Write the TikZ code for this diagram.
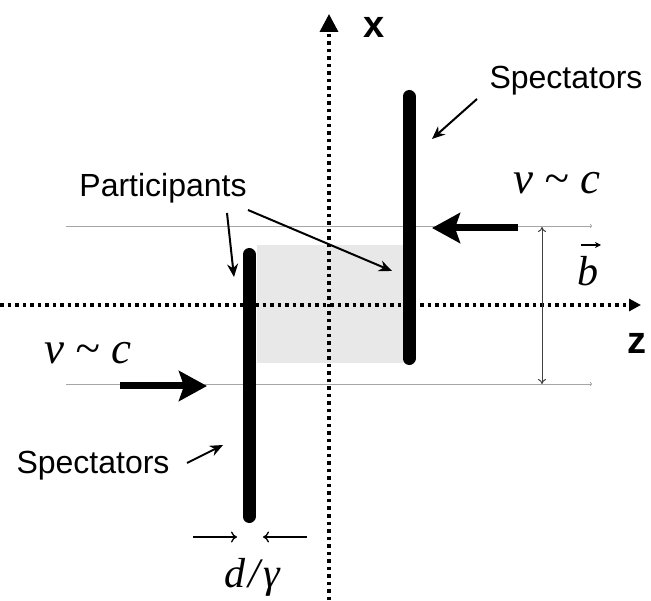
\documentclass[tikz,border=0pt]{standalone}
\usepackage{fontspec}
\setsansfont{Liberation Sans}
\newfontfamily\tms{Liberation Serif}
\usetikzlibrary{arrows.meta}
\newcommand{\tld}{\symbol{"7E}}
\begin{document}
\begin{tikzpicture}[x=1pt,y=-1pt,
 lbl/.style={font=\sffamily\fontsize{32}{32}\selectfont, inner sep=0pt},
 axlbl/.style={font=\sffamily\bfseries\fontsize{38}{38}\selectfont, inner sep=0pt},
 mth/.style={font=\tms\itshape\fontsize{45}{45}\selectfont, inner sep=0pt},
 axisline/.style={line width=3.5pt, dash pattern=on 3.5pt off 4pt},
 nucleus/.style={line width=13pt, line cap=round},
 guide/.style={line width=0.8pt, draw=black!35, -{To[length=2pt,width=4pt]}},
 ptr/.style={line width=2pt, -{Stealth[length=13pt,width=11pt]}},
 beam/.style={line width=7pt, -{Stealth[length=28pt,width=30pt,inset=5pt]}},
 thinarr/.style={line width=1.3pt, -{To[length=6pt,width=11pt]}},
 barr/.style={line width=1pt, draw=black!75, {To[length=5pt,width=8pt]}-{To[length=5pt,width=8pt]}}]
\useasboundingbox (0,0) rectangle (651,601);
% overlap region
\fill[black!9] (257,245) rectangle (403,363);
% guides
\coordinate (g1a) at (66,226); \coordinate (g1b) at (592,226);
\coordinate (g2a) at (66,384); \coordinate (g2b) at (592,384);
\draw[guide] (g1a) -- (g1b);
\draw[guide] (g2a) -- (g2b);
% axes
\coordinate (xa) at (329,600); \coordinate (xb) at (329,14);
\coordinate (za) at (0,305); \coordinate (zb) at (641,305);
\draw[axisline, -{Triangle[length=18pt,width=18pt]}] (xa) -- (xb);
\draw[axisline, -{Triangle[length=12pt,width=12pt]}] (za) -- (zb);
\node[axlbl] (xl) at (374,27) {x};
\node[axlbl] (zl) at (637,343) {z};
% nuclei
\coordinate (r1) at (409,96.5); \coordinate (r2) at (409,358.5);
\coordinate (l1) at (249,254.5); \coordinate (l2) at (249,516.5);
\draw[nucleus] (r1) -- (r2);
\draw[nucleus] (l1) -- (l2);
% beams
\coordinate (rb1) at (518,228); \coordinate (rb2) at (432,228);
\coordinate (lb1) at (120,386); \coordinate (lb2) at (207,386);
\draw[beam] (rb1) -- (rb2);
\draw[beam] (lb1) -- (lb2);
\node[mth] (vr) at (557,183) {v \tld{} c};
\node[mth] (vl) at (88,353) {v \tld{} c};
% impact parameter
\coordinate (b1) at (542,227); \coordinate (b2) at (542,384);
\draw[barr] (b1) -- (b2);
\node[mth, font=\tms\itshape\fontsize{42}{42}\selectfont] (bl) at (588,271) {b};
\coordinate (ba) at (581,245); \coordinate (bb) at (601,245);
\draw[line width=1.3pt, -{Stealth[length=6pt,width=6pt]}] (ba) -- (bb);
% labels and pointers
\node[lbl] (spt) at (566,81) {Spectators};
\node[lbl] (spb) at (93,466) {Spectators};
\node[lbl] (par) at (163,188) {Participants};
\coordinate (p1s) at (477,99); \coordinate (p1e) at (432,139);
\draw[ptr] (p1s) -- (p1e);
\coordinate (p2s) at (227,213); \coordinate (p2e) at (234,277);
\draw[ptr] (p2s) -- (p2e);
\coordinate (p3s) at (248,210); \coordinate (p3e) at (392,271);
\draw[ptr] (p3s) -- (p3e);
\coordinate (p4s) at (187,463); \coordinate (p4e) at (223,445);
\draw[ptr] (p4s) -- (p4e);
% thickness
\coordinate (d1) at (193,537); \coordinate (d2) at (237,537);
\coordinate (d3) at (307,537); \coordinate (d4) at (263,537);
\draw[thinarr] (d1) -- (d2);
\draw[thinarr] (d3) -- (d4);
\node[mth, font=\tms\itshape\fontsize{42}{42}\selectfont] (dg) at (252,577) {d\kern3pt/\kern3ptγ};
\end{tikzpicture}
\end{document}
